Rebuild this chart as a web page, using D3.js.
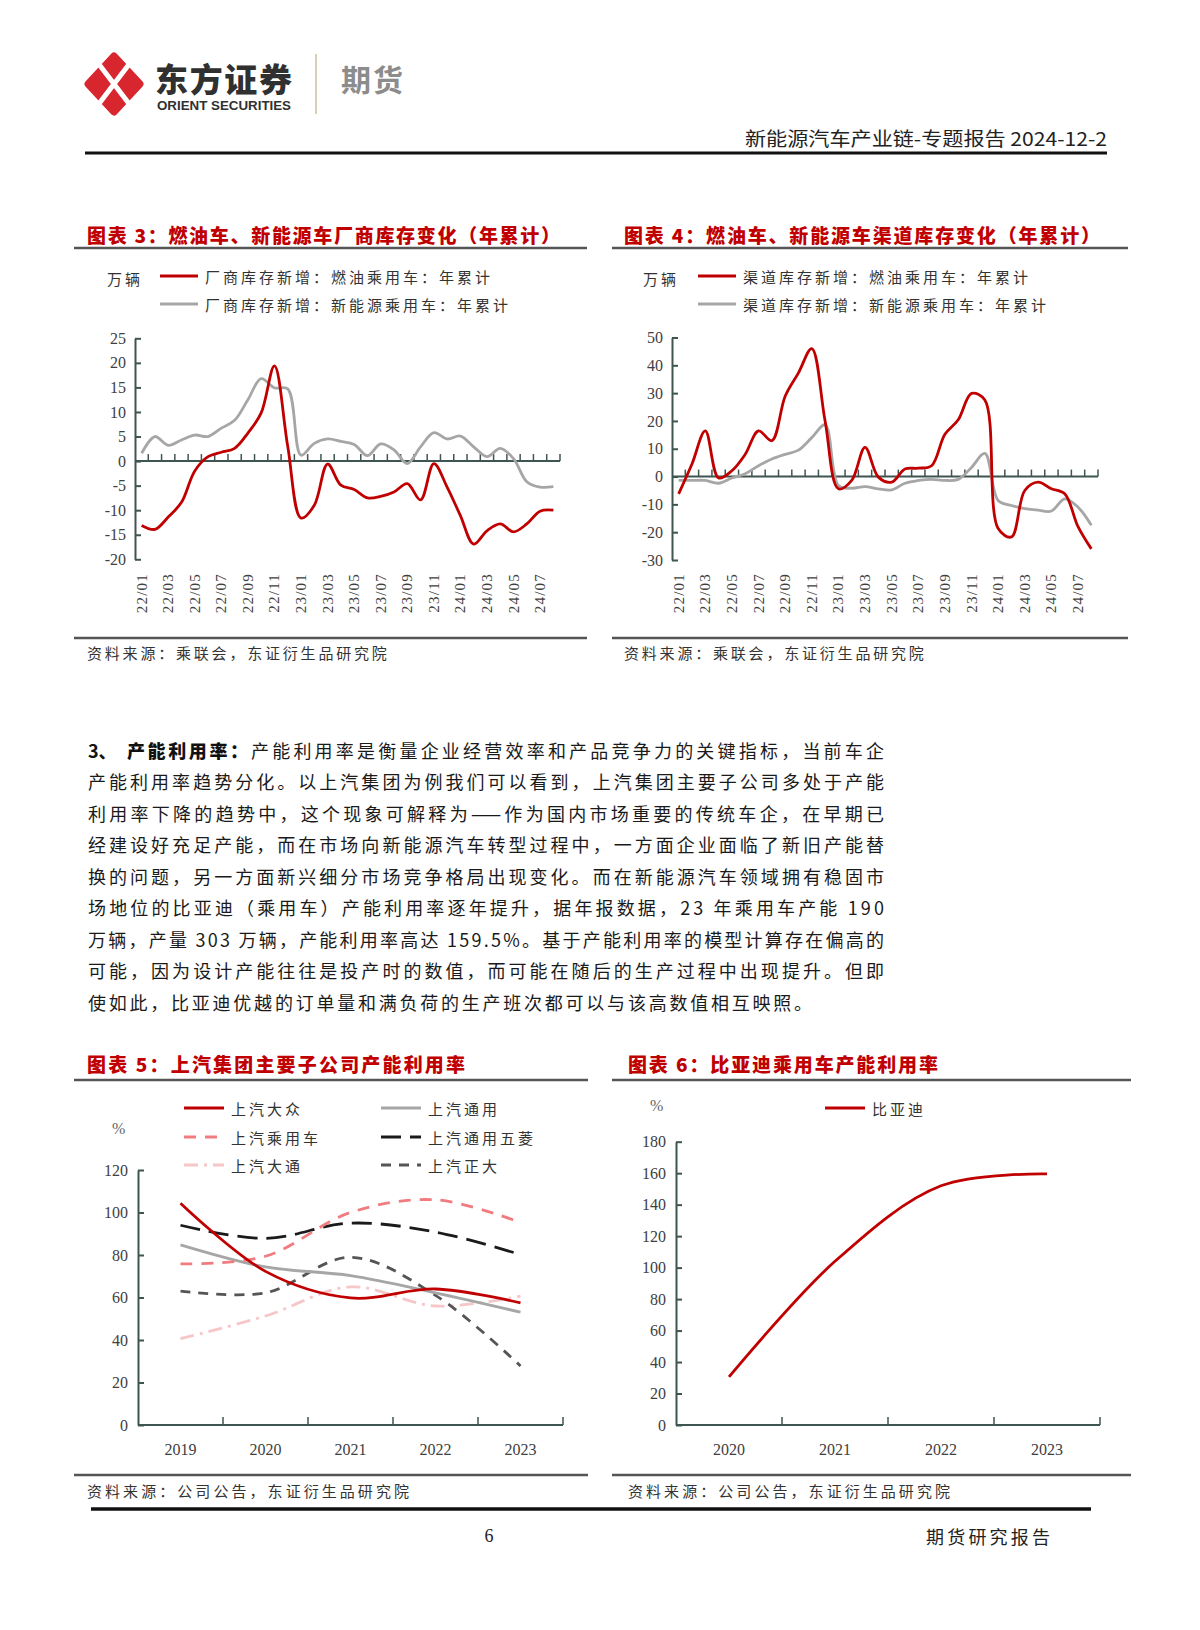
<!DOCTYPE html>
<html>
<head>
<meta charset="utf-8">
<script src="https://cdn.jsdelivr.net/npm/d3@7"></script>
<style>
  body { margin: 0; background: #fff; }
  svg { display: block; }
</style>
</head>
<body>
<svg id="main" width="1200" height="1630"></svg>
<script>
// ---- data ----
const months = ['22/01','22/02','22/03','22/04','22/05','22/06','22/07','22/08','22/09','22/10','22/11','22/12',
  '23/01','23/02','23/03','23/04','23/05','23/06','23/07','23/08','23/09','23/10','23/11','23/12',
  '24/01','24/02','24/03','24/04','24/05','24/06','24/07','24/08']
const monthLabels = ['22/01','22/03','22/05','22/07','22/09','22/11','23/01','23/03','23/05','23/07','23/09','23/11','24/01','24/03','24/05','24/07']

// chart 3: factory inventory (10k units, ytd)
const factoryFuel = [-13.1,-13.9,-11.4,-8.4,-2,0.9,1.8,2.6,5.7,9.8,19.4,3,-11.6,-9,-0.6,-4.9,-5.8,-7.5,-7.2,-6.3,-4.6,-7.9,-0.5,-5.3,-11.1,-16.9,-14.2,-12.8,-14.4,-12.8,-10.2,-10]
const factoryNev = [1.6,5,3.2,4.3,5.3,5,6.7,8.3,12.5,16.8,14.9,14.7,1.2,3.6,4.5,4,3.4,1.1,3.5,2.3,-0.5,2.9,5.8,4.5,5.1,2.9,0.9,2.6,0.5,-4.2,-5.3,-5.2]
const factoryTicks = [-20,-15,-10,-5,0,5,10,15,20,25]

// chart 4: channel inventory
const channelFuel = [-6.2,4.5,16.4,-0.5,2.1,8,16.4,12.9,28.9,37.3,46,20,-4.4,-1.4,10.5,-0.2,-2,2.7,3,3.9,15.2,20.4,29.9,27.5,-18.7,-21.7,-5,-2,-4.4,-6.2,-18,-26]
const channelNev = [-1.4,-1.4,-1.4,-2.4,-0.5,1,3.9,6.3,8,9.5,14,18.6,-3.2,-4.2,-3.6,-4.4,-4.8,-2.4,-1.4,-1,-1.4,-1,3.3,8.3,-8.6,-10.4,-11.5,-12.1,-12.4,-8,-11,-17.5]
const channelTicks = [-30,-20,-10,0,10,20,30,40,50]

// chart 5: SAIC subsidiaries capacity utilisation (%)
const years5 = ['2019','2020','2021','2022','2023']
const saicVW = [104.4,72.3,59.8,64,57.5]
const saicGM = [84.8,74.4,70.3,62.2,53.1]
const saicPV = [75.8,79.4,100,106,95.3]
const sgmw = [94,87.8,95,90.8,80.2]
const saicMaxus = [40.6,51.3,65,56,60.6]
const saicCP = [63,62.2,78.9,61,27.8]
const ticks5 = [0,20,40,60,80,100,120]

// chart 6: BYD passenger car capacity utilisation (%)
const years6 = ['2020','2021','2022','2023']
const byd = [30.6,104,152,159.5]
const ticks6 = [0,20,40,60,80,100,120,140,160,180]

const paragraph = [
  '产能利用率趋势分化。以上汽集团为例我们可以看到，上汽集团主要子公司多处于产能',
  '利用率下降的趋势中，这个现象可解释为——作为国内市场重要的传统车企，在早期已',
  '经建设好充足产能，而在市场向新能源汽车转型过程中，一方面企业面临了新旧产能替',
  '换的问题，另一方面新兴细分市场竞争格局出现变化。而在新能源汽车领域拥有稳固市',
  '场地位的比亚迪（乘用车）产能利用率逐年提升，据年报数据，23 年乘用车产能 190',
  '万辆，产量 303 万辆，产能利用率高达 159.5%。基于产能利用率的模型计算存在偏高的',
  '可能，因为设计产能往往是投产时的数值，而可能在随后的生产过程中出现提升。但即',
  '使如此，比亚迪优越的订单量和满负荷的生产班次都可以与该高数值相互映照。'
]

// ---- style ----
const RED = '#c00000'
const GRAY = '#a6a6a6'
const AXIS = '#3f5551'
const CJK = '"Noto Sans CJK SC", sans-serif'
const SERIF = '"Liberation Serif", "DejaVu Serif", serif'

const svg = d3.select('#main')

function txt(x, y, s, o = {}) {
  const t = svg.append('text')
    .attr('x', x).attr('y', y)
    .attr('dominant-baseline', 'central')
    .attr('font-family', o.font || CJK)
    .attr('font-size', o.size || 15)
    .attr('font-weight', o.weight || 400)
    .attr('fill', o.fill || '#222')
    .attr('text-anchor', o.anchor || 'start')
    .text(s)
  if (o.spacing) t.attr('letter-spacing', o.spacing)
  if (o.len) t.attr('textLength', o.len).attr('lengthAdjust', o.adjust || 'spacing')
  return t
}

function rule(x1, x2, y, w = 2.5, c = '#555') {
  svg.append('line').attr('x1', x1).attr('x2', x2).attr('y1', y).attr('y2', y)
    .attr('stroke', c).attr('stroke-width', w)
}

// ---- header ----
const logo = svg.append('g')
logo.append('path')
  .attr('d', 'M114,56 L140,84 L114,112 L88,84 Z')
  .attr('fill', '#d7262d').attr('stroke', '#d7262d').attr('stroke-width', 7).attr('stroke-linejoin', 'round')
logo.append('path').attr('d', 'M98,63 Q114,84 130,105').attr('stroke', '#fff').attr('stroke-width', 5).attr('fill', 'none')
logo.append('path').attr('d', 'M130,63 Q114,84 98,105').attr('stroke', '#fff').attr('stroke-width', 5).attr('fill', 'none')
txt(155, 78, '东方证券', { size: 33, weight: 900, fill: '#303030', len: 137 })
txt(157, 106, 'ORIENT SECURITIES', { font: '"Liberation Sans", Arial, sans-serif', size: 12.5, weight: 700, fill: '#303030', len: 134, adjust: 'spacingAndGlyphs' })
svg.append('line').attr('x1', 316).attr('x2', 316).attr('y1', 54).attr('y2', 114).attr('stroke', '#cdbf9f').attr('stroke-width', 1.5)
txt(341, 78, '期货', { size: 30, weight: 700, fill: '#8c8c8c', len: 62 })
txt(1107, 137, '新能源汽车产业链-专题报告 2024-12-2', { size: 19, fill: '#222', anchor: 'end', len: 362, adjust: 'spacingAndGlyphs' })
rule(85, 1107, 153, 3, '#111')

const fmt = d => String(d)

// ---- monthly charts (3 & 4) ----
function monthlyChart(cfg) {
  rule(cfg.panel[0], cfg.panel[1], 248)
  rule(cfg.panel[0], cfg.panel[1], 638)
  txt(cfg.titleX, 234, cfg.title, { size: 19, weight: 900, fill: RED, len: cfg.titleLen })
  txt(cfg.source[0], 652, '资料来源：乘联会，东证衍生品研究院', { size: 15, fill: '#333', spacing: 2.8 })

  // legend
  txt(cfg.unitX, 278, '万辆', { size: 15, fill: '#333', spacing: 3 })
  cfg.series.forEach((s, i) => {
    const ly = 276 + i * 28
    svg.append('line').attr('x1', cfg.legX).attr('x2', cfg.legX + 38).attr('y1', ly).attr('y2', ly)
      .attr('stroke', s.color).attr('stroke-width', 3)
    txt(cfg.legX + 45, ly, s.name, { size: 15, fill: '#333', spacing: 3 })
  })

  const x = d3.scaleBand().domain(months).range([cfg.x0, cfg.x1])
  const y = d3.scaleLinear().domain(cfg.domain).range([cfg.yBottom, cfg.yTop])
  const g = svg.append('g')

  const yAxis = d3.axisLeft(y).tickValues(cfg.ticks).tickSize(-6).tickSizeOuter(0).tickPadding(9).tickFormat(fmt)
  const ya = g.append('g').attr('transform', `translate(${cfg.x0},0)`).attr('color', AXIS).call(yAxis)
  ya.selectAll('path, line').attr('stroke-width', 2)
  ya.selectAll('text').attr('font-family', SERIF).attr('font-size', 16).attr('fill', '#404040')

  // zero axis with upward ticks at band boundaries
  const y0 = y(0)
  g.append('line').attr('x1', cfg.x0).attr('x2', cfg.x1).attr('y1', y0).attr('y2', y0).attr('stroke', AXIS).attr('stroke-width', 2)
  const bounds = months.slice(1).map(m => x(m)).concat([cfg.x1])
  g.selectAll('.xt').data(bounds).join('line')
    .attr('x1', d => d).attr('x2', d => d).attr('y1', y0).attr('y2', y0 - 7)
    .attr('stroke', AXIS).attr('stroke-width', 1.5)

  g.selectAll('.xl').data(monthLabels).join('text')
    .attr('transform', d => `translate(${x(d) + x.bandwidth() / 2},573) rotate(-90)`)
    .attr('text-anchor', 'end').attr('dominant-baseline', 'central')
    .attr('font-family', SERIF).attr('font-size', 15).attr('letter-spacing', 1.2).attr('fill', '#404040')
    .text(d => d)

  const line = d3.line().x((d, i) => x(months[i]) + x.bandwidth() / 2).y(d => y(d)).curve(d3.curveCatmullRom)
  cfg.series.slice().reverse().forEach(s => {
    g.append('path').attr('d', line(s.values)).attr('fill', 'none')
      .attr('stroke', s.color).attr('stroke-width', 2.8).attr('stroke-linejoin', 'round')
  })
}

monthlyChart({
  panel: [74, 587], titleX: 87, titleLen: 473, source: [87],
  title: '图表 3：燃油车、新能源车厂商库存变化（年累计）',
  unitX: 107, legX: 160,
  x0: 135, x1: 560, yTop: 338.3, yBottom: 559.3, domain: [-20, 25], ticks: factoryTicks,
  series: [
    { name: '厂商库存新增：燃油乘用车：年累计', values: factoryFuel, color: RED },
    { name: '厂商库存新增：新能源乘用车：年累计', values: factoryNev, color: GRAY }
  ]
})

monthlyChart({
  panel: [612, 1128], titleX: 624, titleLen: 476, source: [624],
  title: '图表 4：燃油车、新能源车渠道库存变化（年累计）',
  unitX: 643, legX: 698,
  x0: 672, x1: 1098, yTop: 337.5, yBottom: 560, domain: [-30, 50], ticks: channelTicks,
  series: [
    { name: '渠道库存新增：燃油乘用车：年累计', values: channelFuel, color: RED },
    { name: '渠道库存新增：新能源乘用车：年累计', values: channelNev, color: GRAY }
  ]
})

// ---- paragraph ----
const lineGap = 31.46
txt(88, 750, '3、', { size: 18, weight: 700, fill: '#111' })
txt(127, 750, '产能利用率：', { size: 18, weight: 900, fill: '#111', len: 121 })
txt(251, 750, '产能利用率是衡量企业经营效率和产品竞争力的关键指标，当前车企', { size: 18, fill: '#1a1a1a', len: 633 })
paragraph.forEach((s, i) => {
  const last = i === paragraph.length - 1
  txt(88, 750 + (i + 1) * lineGap, s, { size: 18, fill: '#1a1a1a', len: last ? 724 : 796 })
})

// ---- annual charts (5 & 6) ----
function annualChart(cfg) {
  rule(cfg.panel[0], cfg.panel[1], 1080)
  rule(cfg.panel[0], cfg.panel[1], 1475)
  txt(cfg.titleX, 1063, cfg.title, { size: 19, weight: 900, fill: RED, len: cfg.titleLen })
  txt(cfg.titleX, 1490, '资料来源：公司公告，东证衍生品研究院', { size: 15, fill: '#333', len: 322 })
  txt(cfg.unitX, cfg.unitY, '%', { font: SERIF, size: 16, fill: '#666' })

  const x = d3.scaleBand().domain(cfg.cats).range([cfg.x0, cfg.x1])
  const y = d3.scaleLinear().domain([0, cfg.ticks[cfg.ticks.length - 1]]).range([cfg.yBottom, cfg.yTop])
  const g = svg.append('g')

  const yAxis = d3.axisLeft(y).tickValues(cfg.ticks).tickSize(-6).tickSizeOuter(0).tickPadding(10).tickFormat(fmt)
  const ya = g.append('g').attr('transform', `translate(${cfg.x0},0)`).attr('color', AXIS).call(yAxis)
  ya.selectAll('path, line').attr('stroke-width', 2)
  ya.selectAll('text').attr('font-family', SERIF).attr('font-size', 16).attr('fill', '#404040')

  const yb = y(0)
  g.append('line').attr('x1', cfg.x0).attr('x2', cfg.x1).attr('y1', yb).attr('y2', yb).attr('stroke', AXIS).attr('stroke-width', 2)
  const bounds = cfg.cats.slice(1).map(c => x(c)).concat([cfg.x1])
  g.selectAll('.xt').data(bounds).join('line')
    .attr('x1', d => d).attr('x2', d => d).attr('y1', yb).attr('y2', yb - 8)
    .attr('stroke', AXIS).attr('stroke-width', 1.5)
  g.selectAll('.xl').data(cfg.cats).join('text')
    .attr('x', d => x(d) + x.bandwidth() / 2).attr('y', 1449)
    .attr('text-anchor', 'middle').attr('dominant-baseline', 'central')
    .attr('font-family', SERIF).attr('font-size', 16).attr('fill', '#404040')
    .text(d => d)

  const line = d3.line().x((d, i) => x(cfg.cats[i]) + x.bandwidth() / 2).y(d => y(d)).curve(d3.curveCatmullRom)
  cfg.series.forEach(s => {
    g.append('path').attr('d', line(s.values)).attr('fill', 'none')
      .attr('stroke', s.color).attr('stroke-width', 2.8)
      .attr('stroke-dasharray', s.dash || null)
  })
  // legend
  cfg.series.forEach(s => {
    svg.append('line').attr('x1', s.lx).attr('x2', s.lx + 40).attr('y1', s.ly).attr('y2', s.ly)
      .attr('stroke', s.color).attr('stroke-width', 2.8).attr('stroke-dasharray', s.dash || null)
    txt(s.lx + 47, s.ly, s.name, { size: 15, fill: '#333', spacing: 3 })
  })
}

annualChart({
  panel: [74, 588], titleX: 87, titleLen: 378,
  title: '图表 5：上汽集团主要子公司产能利用率',
  unitX: 112, unitY: 1128,
  cats: years5, x0: 138, x1: 563, yTop: 1170, yBottom: 1425, ticks: ticks5,
  series: [
    { name: '上汽大通', values: saicMaxus, color: '#f6c6c8', dash: '14,6,3,6', lx: 184, ly: 1165 },
    { name: '上汽正大', values: saicCP, color: '#555555', dash: '10,8', lx: 381, ly: 1165 },
    { name: '上汽通用', values: saicGM, color: GRAY, lx: 381, ly: 1108 },
    { name: '上汽通用五菱', values: sgmw, color: '#1a1a1a', dash: '20,9', lx: 381, ly: 1137 },
    { name: '上汽乘用车', values: saicPV, color: '#f07c80', dash: '12,9', lx: 184, ly: 1137 },
    { name: '上汽大众', values: saicVW, color: RED, lx: 184, ly: 1108 }
  ]
})

annualChart({
  panel: [612, 1131], titleX: 628, titleLen: 310,
  title: '图表 6：比亚迪乘用车产能利用率',
  unitX: 650, unitY: 1105,
  cats: years6, x0: 676, x1: 1100, yTop: 1141.7, yBottom: 1425, ticks: ticks6,
  series: [
    { name: '比亚迪', values: byd, color: RED, lx: 825, ly: 1108 }
  ]
})

// ---- footer ----
rule(91, 1091, 1509, 3.5, '#111')
txt(489, 1536, '6', { font: SERIF, size: 18, fill: '#222', anchor: 'middle' })
txt(926, 1536, '期货研究报告', { size: 18, fill: '#222', len: 124 })
</script>
</body>
</html>
